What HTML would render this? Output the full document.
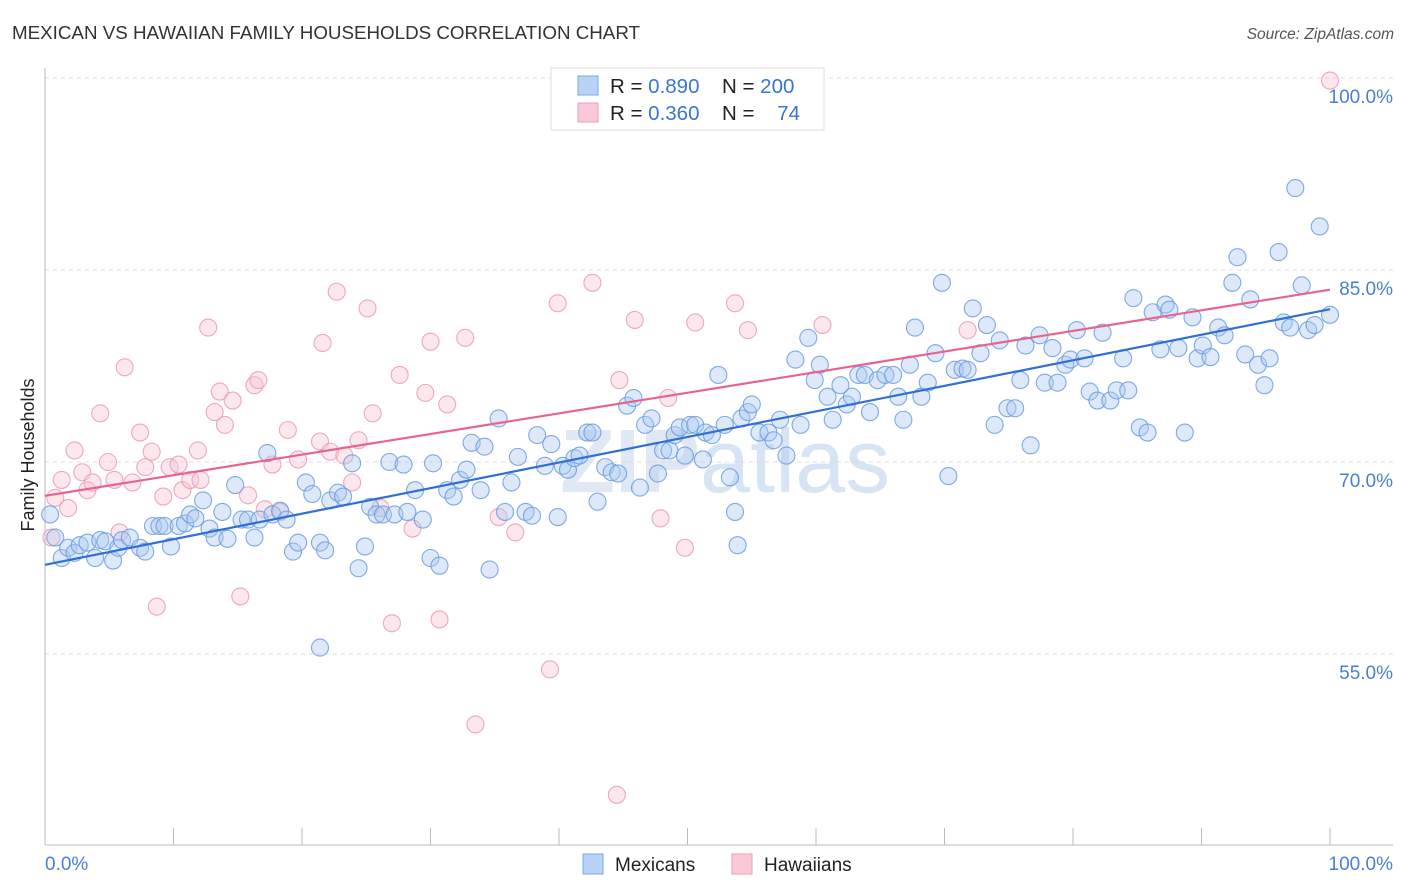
<!DOCTYPE html>
<html><head><meta charset="utf-8"><style>
body{margin:0;background:#fff;font-family:"Liberation Sans",sans-serif;}
svg{display:block}
</style></head><body>
<svg id="chart" width="1406" height="892" xmlns="http://www.w3.org/2000/svg">
<text x="12" y="39" font-size="18" fill="#333" textLength="628" lengthAdjust="spacingAndGlyphs">MEXICAN VS HAWAIIAN FAMILY HOUSEHOLDS CORRELATION CHART</text>
<text x="1394" y="39" font-size="15.5" fill="#555" font-style="italic" text-anchor="end">Source: ZipAtlas.com</text>
<text x="560" y="492" font-size="90" fill="#dfe8f3" font-weight="bold">ZIP<tspan font-weight="normal" fill="#d6e4f4">atlas</tspan></text>
<g id="grid"></g>
<g id="axes"></g>
<g id="pts"></g>
<g id="lines"></g>
<text transform="translate(34,455) rotate(-90)" font-size="18" fill="#222" text-anchor="middle">Family Households</text>
<g>
<rect x="551" y="68" width="273" height="62" fill="#fff" stroke="#ddd"/>
<rect x="578" y="76" width="20" height="19" fill="#b8d3f5" stroke="#7aa7e3"/>
<rect x="578" y="103" width="20" height="19" fill="#fac8d6" stroke="#ee9fb7"/>
<text x="610" y="93" font-size="20.5" fill="#222">R = <tspan fill="#3a74d4">0.890</tspan></text>
<text x="722" y="93" font-size="20.5" fill="#222">N = <tspan fill="#3a74d4">200</tspan></text>
<text x="610" y="120" font-size="20.5" fill="#222">R = <tspan fill="#3a74d4">0.360</tspan></text>
<text x="722" y="120" font-size="20.5" fill="#222">N = </text>
<text x="800" y="120" font-size="20.5" fill="#3a74d4" text-anchor="end">74</text>
</g>
<g>
<rect x="583" y="854" width="20" height="20" fill="#b8d3f5" stroke="#7aa7e3"/>
<text x="615" y="871" font-size="19" fill="#222">Mexicans</text>
<rect x="732" y="854" width="20" height="20" fill="#fac8d6" stroke="#ee9fb7"/>
<text x="764" y="871" font-size="19" fill="#222">Hawaiians</text>
</g>
</svg>
<script>
const yTicks=[55,70,85,100];
const yTickLabels=["55.0%","70.0%","85.0%","100.0%"];
const xTickLabels=["0.0%","100.0%"];
const blueX=[0.4,0.8,1.3,1.8,2.3,2.7,3.3,3.9,4.3,4.7,5.3,5.7,6.0,6.6,7.4,7.8,8.4,8.9,9.3,9.8,10.4,10.9,11.3,11.7,12.3,12.8,13.2,13.8,14.2,14.8,15.3,15.8,16.3,16.7,17.3,17.7,18.3,18.8,19.3,19.7,20.3,20.8,21.4,21.8,22.2,22.8,23.2,23.9,24.4,24.9,25.3,25.8,26.3,26.8,27.2,27.9,28.2,28.8,29.4,30.0,30.2,30.7,31.3,31.8,32.3,32.8,33.2,33.9,34.2,34.6,35.3,35.8,36.3,36.8,37.4,37.9,38.3,38.9,39.4,39.9,40.3,40.7,41.2,41.6,42.2,42.6,43.0,43.6,44.1,44.6,45.3,45.8,46.3,46.7,47.2,47.7,48.1,48.6,49.0,49.4,49.8,50.2,50.6,51.2,51.4,51.9,52.4,52.9,53.3,53.7,53.9,54.2,54.7,55.0,55.6,56.3,56.7,57.2,57.7,58.4,58.8,59.4,59.9,60.3,60.9,61.3,61.9,62.4,62.8,63.3,63.8,64.2,64.8,65.4,66.0,66.4,66.8,67.3,67.7,68.2,68.7,69.3,69.8,70.3,70.8,71.4,71.8,72.2,72.8,73.3,73.9,74.3,74.9,75.5,75.9,76.3,76.7,77.4,77.8,78.4,78.8,79.4,79.8,80.3,80.9,81.3,81.9,82.3,82.9,83.4,83.9,84.3,84.7,85.2,85.8,86.2,86.8,87.2,87.5,88.2,88.7,89.3,89.7,90.1,90.7,91.3,91.8,92.4,92.8,93.4,93.8,94.4,94.9,95.3,96.0,96.4,96.9,97.3,97.8,98.3,98.8,99.2,100,21.4];
const blueY=[65.9,64.1,62.5,63.3,62.9,63.5,63.7,62.5,63.9,63.8,62.3,63.3,63.9,64.1,63.3,63.0,65.0,65.0,65.0,63.4,65.0,65.2,65.9,65.6,67.0,64.8,64.1,66.1,64.0,68.2,65.5,65.5,64.1,65.5,70.7,65.9,66.2,65.5,63.0,63.7,68.4,67.5,63.7,63.1,67.0,67.6,67.3,69.9,61.7,63.4,66.5,65.9,65.9,70.0,65.9,69.8,66.1,67.8,65.5,62.5,69.9,61.9,67.8,67.3,68.6,69.4,71.5,67.8,71.2,61.6,73.4,66.1,68.4,70.4,66.1,65.8,72.1,69.7,71.4,65.7,69.7,69.4,70.3,70.5,72.3,72.3,66.9,69.6,69.2,69.1,74.4,75.0,68.0,72.9,73.4,69.1,70.9,70.9,72.1,72.7,70.5,72.9,72.9,70.2,72.3,72.1,76.8,72.9,68.8,66.1,63.5,73.4,73.9,74.5,72.3,72.3,71.7,73.3,70.5,78.0,72.9,79.7,76.4,77.6,75.1,73.3,76.0,74.5,75.1,76.8,76.8,73.9,76.4,76.8,76.8,75.1,73.3,77.6,80.5,75.1,76.2,78.5,84.0,68.9,77.2,77.3,77.2,82.0,78.5,80.7,72.9,79.5,74.2,74.2,76.4,79.1,71.3,79.9,76.2,78.9,76.2,77.6,78.0,80.3,78.1,75.5,74.8,80.1,74.8,75.6,78.1,75.6,82.8,72.7,72.3,81.7,78.8,82.3,81.9,78.9,72.3,81.3,78.1,79.1,78.2,80.5,79.9,84.0,86.0,78.4,82.7,77.6,76.0,78.1,86.4,80.9,80.5,91.4,83.8,80.3,80.7,88.4,81.5,55.5];
const pinkX=[0.5,0.8,1.3,1.8,2.3,2.9,3.3,3.7,4.3,4.9,5.4,5.8,6.2,6.8,7.4,7.8,8.3,8.7,9.2,9.7,10.4,10.7,11.3,11.9,12.1,12.7,13.2,13.6,14.0,14.6,15.2,15.8,16.3,16.6,17.1,17.7,18.3,18.9,19.7,21.4,21.6,22.2,22.7,23.3,23.9,24.4,25.1,25.5,26.1,27.0,27.6,28.6,29.6,30.0,30.7,31.3,32.7,33.5,35.3,36.6,39.3,39.9,42.6,44.5,44.7,45.9,47.9,48.5,49.8,50.6,53.7,54.7,60.5,71.8,100];
const pinkY=[64.1,67.2,68.6,66.4,70.9,69.2,67.8,68.4,73.8,70.0,68.6,64.5,77.4,68.4,72.3,69.6,70.8,58.7,67.3,69.6,69.8,67.8,68.6,70.9,68.6,80.5,73.9,75.5,72.9,74.8,59.5,67.4,76.0,76.4,66.3,69.8,66.1,72.5,70.2,71.6,79.3,70.8,83.3,70.5,68.4,71.7,82.0,73.8,66.4,57.4,76.8,64.8,75.4,79.4,57.7,74.5,79.7,49.5,65.7,64.5,53.8,82.4,84.0,44.0,76.4,81.1,65.6,75.0,63.3,80.9,82.4,80.3,80.7,80.3,99.8];
const NS="http://www.w3.org/2000/svg";
const X0=45,X1=1330,YTOP=78,PXPER=12.8;
function sx(v){return X0+(X1-X0)*v/100;}
function sy(v){return YTOP+(100-v)*PXPER;}
function mk(tag,attrs,parent){const e=document.createElementNS(NS,tag);for(const k in attrs)e.setAttribute(k,attrs[k]);parent.appendChild(e);return e;}
const grid=document.getElementById('grid'),axes=document.getElementById('axes'),pts=document.getElementById('pts'),lines=document.getElementById('lines');
yTicks.forEach((t,i)=>{
 const l=mk('line',{x1:45,x2:1393,y1:sy(t),y2:sy(t),stroke:'#ddd','stroke-dasharray':'4,4'},grid);
 
 
 const tx=mk('text',{x:1393,y:sy(t)+25,'font-size':19,fill:'#4a7fd6','text-anchor':'end'},axes);
 tx.textContent=yTickLabels[i];
 
 
});
let a=mk('line',{x1:45,x2:45,y1:68,y2:845,stroke:'#bbb'},axes);


a=mk('line',{x1:45,x2:1393,y1:845,y2:845,stroke:'#bbb'},axes);


for(let i=0;i<=10;i++){
 const t=mk('line',{x1:sx(i*10),x2:sx(i*10),y1:828,y2:845,stroke:'#bbb'},axes);
 
 
}
let xl=mk('text',{x:45,y:870,'font-size':19,fill:'#4a7fd6'},axes);xl.textContent=xTickLabels[0];


xl=mk('text',{x:1393,y:870,'font-size':19,fill:'#4a7fd6','text-anchor':'end'},axes);xl.textContent=xTickLabels[1];


function drawPts(xs,ys,fill,stroke,name){
 xs.forEach((x,i)=>{
  const c=mk('circle',{cx:sx(x),cy:sy(ys[i]),r:8.5,fill:fill,'fill-opacity':0.4,stroke:stroke,'stroke-width':1.1,'stroke-opacity':0.85},pts);
  
  
 });
}
drawPts(pinkX,pinkY,'#f8c3d2','#eb9ab3','hawaiians-point');
drawPts(blueX,blueY,'#aac8f0','#6a9be0','mexicans-point');
function fit(xs,ys){const n=xs.length;let mx=0,my=0;for(let i=0;i<n;i++){mx+=xs[i];my+=ys[i];}mx/=n;my/=n;let sxy=0,sxx=0;for(let i=0;i<n;i++){sxy+=(xs[i]-mx)*(ys[i]-my);sxx+=(xs[i]-mx)**2;}const b=sxy/sxx;return [my-b*mx,b];}
function drawLine(xs,ys,color,name){const [a0,b]=fit(xs,ys);const l=mk('line',{x1:sx(0),y1:sy(a0),x2:sx(100),y2:sy(a0+100*b),stroke:color,'stroke-width':2.2},lines);
 
 }
drawLine(blueX,blueY,'#2f6fd6','mexicans-trend-line');
drawLine(pinkX,pinkY,'#e8628e','hawaiians-trend-line');
</script>
</body></html>
